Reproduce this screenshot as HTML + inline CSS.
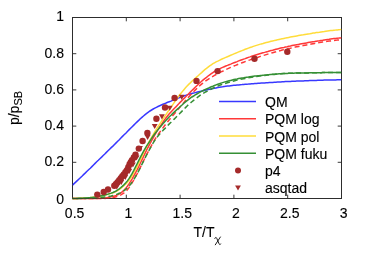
<!DOCTYPE html>
<html><head><meta charset="utf-8"><style>
html,body{margin:0;padding:0;background:#fff;}
svg{display:block;will-change:transform;opacity:0.999;font-family:"Liberation Sans",sans-serif;font-size:14px;fill:#000;}
text{stroke:#000;stroke-width:0.12px;}
</style></head><body>
<svg width="366" height="256" viewBox="0 0 366 256">
<rect width="366" height="256" fill="#fff"/>
<rect x="72.5" y="17.5" width="269.0" height="181.0" fill="none" stroke="#3a3a3a" stroke-width="1"/>
<path d="M72.5,198.5 v-3.8 M72.5,17.5 v3.8" stroke="#3a3a3a" stroke-width="1"/>
<path d="M72.5,198.5 h3.8 M341.5,198.5 h-3.8" stroke="#3a3a3a" stroke-width="1"/>
<path d="M126.3,198.5 v-3.8 M126.3,17.5 v3.8" stroke="#3a3a3a" stroke-width="1"/>
<path d="M72.5,162.3 h3.8 M341.5,162.3 h-3.8" stroke="#3a3a3a" stroke-width="1"/>
<path d="M180.1,198.5 v-3.8 M180.1,17.5 v3.8" stroke="#3a3a3a" stroke-width="1"/>
<path d="M72.5,126.1 h3.8 M341.5,126.1 h-3.8" stroke="#3a3a3a" stroke-width="1"/>
<path d="M233.9,198.5 v-3.8 M233.9,17.5 v3.8" stroke="#3a3a3a" stroke-width="1"/>
<path d="M72.5,89.9 h3.8 M341.5,89.9 h-3.8" stroke="#3a3a3a" stroke-width="1"/>
<path d="M287.7,198.5 v-3.8 M287.7,17.5 v3.8" stroke="#3a3a3a" stroke-width="1"/>
<path d="M72.5,53.7 h3.8 M341.5,53.7 h-3.8" stroke="#3a3a3a" stroke-width="1"/>
<path d="M341.5,198.5 v-3.8 M341.5,17.5 v3.8" stroke="#3a3a3a" stroke-width="1"/>
<path d="M72.5,17.5 h3.8 M341.5,17.5 h-3.8" stroke="#3a3a3a" stroke-width="1"/>
<path d="M72.5,185.1 L74.1,183.6 L75.7,182.1 L77.3,180.6 L79.0,179.0 L80.6,177.5 L82.2,176.0 L83.8,174.4 L85.4,172.9 L87.0,171.3 L88.6,169.8 L90.3,168.2 L91.9,166.6 L93.5,165.0 L95.1,163.4 L96.7,161.8 L98.3,160.3 L99.9,158.7 L101.6,157.1 L103.2,155.5 L104.8,154.0 L106.4,152.4 L108.0,150.8 L109.6,149.2 L111.2,147.6 L112.9,146.1 L114.5,144.5 L116.1,142.9 L117.7,141.3 L119.3,139.7 L120.9,138.0 L122.5,136.4 L124.1,134.8 L125.8,133.2 L127.4,131.5 L129.0,129.9 L130.6,128.3 L132.2,126.7 L133.8,125.1 L135.4,123.5 L137.1,121.9 L138.7,120.4 L140.3,118.8 L141.9,117.4 L143.5,116.0 L145.1,114.6 L146.7,113.3 L148.4,112.1 L150.0,111.0 L151.6,110.0 L153.2,109.0 L154.8,108.1 L156.4,107.3 L158.0,106.5 L159.7,105.7 L161.3,105.0 L162.9,104.3 L164.5,103.6 L166.1,103.0 L167.7,102.3 L169.3,101.7 L171.0,101.1 L172.6,100.4 L174.2,99.8 L175.8,99.1 L177.4,98.4 L179.0,97.8 L180.6,97.1 L182.3,96.5 L183.9,96.0 L185.5,95.4 L187.1,94.9 L188.7,94.4 L190.3,93.9 L191.9,93.5 L193.6,93.1 L195.2,92.6 L196.8,92.2 L198.4,91.8 L200.0,91.4 L201.6,91.1 L203.2,90.7 L204.8,90.3 L206.5,90.0 L208.1,89.6 L209.7,89.2 L211.3,88.9 L212.9,88.6 L214.5,88.2 L216.1,87.9 L217.8,87.6 L219.4,87.3 L221.0,87.0 L222.6,86.8 L224.2,86.5 L225.8,86.3 L227.4,86.1 L229.1,85.9 L230.7,85.7 L232.3,85.5 L233.9,85.3 L235.5,85.2 L237.1,85.0 L238.7,84.9 L240.4,84.7 L242.0,84.6 L243.6,84.4 L245.2,84.3 L246.8,84.2 L248.4,84.1 L250.0,83.9 L251.7,83.8 L253.3,83.7 L254.9,83.6 L256.5,83.5 L258.1,83.3 L259.7,83.2 L261.3,83.1 L263.0,83.0 L264.6,82.9 L266.2,82.8 L267.8,82.7 L269.4,82.6 L271.0,82.5 L272.6,82.4 L274.3,82.3 L275.9,82.2 L277.5,82.1 L279.1,82.0 L280.7,81.9 L282.3,81.8 L283.9,81.7 L285.5,81.6 L287.2,81.6 L288.8,81.5 L290.4,81.4 L292.0,81.3 L293.6,81.3 L295.2,81.2 L296.8,81.1 L298.5,81.1 L300.1,81.0 L301.7,80.9 L303.3,80.9 L304.9,80.8 L306.5,80.7 L308.1,80.7 L309.8,80.6 L311.4,80.6 L313.0,80.5 L314.6,80.5 L316.2,80.4 L317.8,80.3 L319.4,80.3 L321.1,80.2 L322.7,80.2 L324.3,80.1 L325.9,80.1 L327.5,80.1 L329.1,80.0 L330.7,80.0 L332.4,79.9 L334.0,79.9 L335.6,79.9 L337.2,79.8 L338.8,79.8 L340.4,79.8 L341.5,79.8" fill="none" stroke="#3838ff" stroke-width="1.5"/>
<path d="M72.5,198.5 L74.1,198.5 L75.7,198.5 L77.3,198.5 L79.0,198.5 L80.6,198.5 L82.2,198.5 L83.8,198.5 L85.4,198.5 L87.0,198.5 L88.6,198.5 L90.3,198.5 L91.9,198.5 L93.5,198.5 L95.1,198.5 L96.7,198.4 L98.3,198.3 L99.9,198.3 L101.6,198.2 L103.2,198.0 L104.8,197.9 L106.4,197.7 L108.0,197.4 L109.6,197.2 L111.2,196.8 L112.9,196.4 L114.5,196.0 L116.1,195.4 L117.7,194.7 L119.3,193.9 L120.9,192.9 L122.5,191.6 L124.1,190.0 L125.8,188.2 L127.4,186.2 L129.0,183.9 L130.6,181.4 L132.2,178.8 L133.8,175.9 L135.4,172.9 L137.1,169.8 L138.7,166.6 L140.3,163.2 L141.9,159.9 L143.5,156.5 L145.1,153.2 L146.7,149.9 L148.4,146.7 L150.0,143.6 L151.6,140.6 L153.2,137.8 L154.8,135.0 L156.4,132.2 L158.0,129.6 L159.7,127.0 L161.3,124.6 L162.9,122.2 L164.5,119.9 L166.1,117.7 L167.7,115.7 L169.3,113.8 L171.0,112.0 L172.6,110.3 L174.2,108.6 L175.8,106.9 L177.4,105.2 L179.0,103.6 L180.6,101.9 L182.3,100.3 L183.9,98.6 L185.5,97.0 L187.1,95.3 L188.7,93.7 L190.3,92.1 L191.9,90.5 L193.6,88.9 L195.2,87.3 L196.8,85.7 L198.4,84.2 L200.0,82.7 L201.6,81.3 L203.2,79.9 L204.8,78.6 L206.5,77.3 L208.1,76.0 L209.7,74.8 L211.3,73.7 L212.9,72.6 L214.5,71.5 L216.1,70.6 L217.8,69.7 L219.4,68.9 L221.0,68.1 L222.6,67.4 L224.2,66.7 L225.8,66.0 L227.4,65.4 L229.1,64.7 L230.7,64.1 L232.3,63.4 L233.9,62.8 L235.5,62.2 L237.1,61.6 L238.7,60.9 L240.4,60.3 L242.0,59.7 L243.6,59.1 L245.2,58.6 L246.8,58.0 L248.4,57.4 L250.0,56.9 L251.7,56.3 L253.3,55.8 L254.9,55.3 L256.5,54.8 L258.1,54.3 L259.7,53.8 L261.3,53.3 L263.0,52.8 L264.6,52.4 L266.2,51.9 L267.8,51.5 L269.4,51.0 L271.0,50.6 L272.6,50.2 L274.3,49.7 L275.9,49.3 L277.5,48.9 L279.1,48.5 L280.7,48.1 L282.3,47.7 L283.9,47.4 L285.5,47.0 L287.2,46.7 L288.8,46.3 L290.4,46.0 L292.0,45.6 L293.6,45.3 L295.2,45.0 L296.8,44.7 L298.5,44.4 L300.1,44.1 L301.7,43.8 L303.3,43.5 L304.9,43.2 L306.5,42.9 L308.1,42.6 L309.8,42.3 L311.4,42.0 L313.0,41.7 L314.6,41.5 L316.2,41.2 L317.8,40.9 L319.4,40.7 L321.1,40.4 L322.7,40.2 L324.3,39.9 L325.9,39.7 L327.5,39.5 L329.1,39.3 L330.7,39.0 L332.4,38.8 L334.0,38.6 L335.6,38.4 L337.2,38.2 L338.8,38.1 L340.4,37.9 L341.5,37.8" fill="none" stroke="#ff3838" stroke-width="1.5"/>
<path d="M72.5,198.5 L74.1,198.5 L75.7,198.5 L77.3,198.5 L79.0,198.5 L80.6,198.5 L82.2,198.5 L83.8,198.5 L85.4,198.5 L87.0,198.5 L88.6,198.5 L90.3,198.5 L91.9,198.5 L93.5,198.5 L95.1,198.5 L96.7,198.5 L98.3,198.5 L99.9,198.5 L101.6,198.5 L103.2,198.5 L104.8,198.4 L106.4,198.3 L108.0,198.2 L109.6,198.0 L111.2,197.8 L112.9,197.5 L114.5,197.2 L116.1,196.7 L117.7,196.2 L119.3,195.6 L120.9,194.8 L122.5,193.9 L124.1,192.8 L125.8,191.4 L127.4,189.7 L129.0,187.6 L130.6,185.3 L132.2,182.7 L133.8,179.9 L135.4,176.9 L137.1,173.9 L138.7,170.7 L140.3,167.5 L141.9,164.2 L143.5,161.0 L145.1,157.7 L146.7,154.5 L148.4,151.3 L150.0,148.2 L151.6,145.3 L153.2,142.4 L154.8,139.7 L156.4,137.1 L158.0,134.7 L159.7,132.3 L161.3,130.1 L162.9,127.9 L164.5,125.8 L166.1,123.7 L167.7,121.7 L169.3,119.7 L171.0,117.7 L172.6,115.8 L174.2,113.9 L175.8,112.1 L177.4,110.2 L179.0,108.3 L180.6,106.3 L182.3,104.4 L183.9,102.5 L185.5,100.6 L187.1,98.7 L188.7,96.9 L190.3,95.2 L191.9,93.4 L193.6,91.8 L195.2,90.1 L196.8,88.5 L198.4,87.0 L200.0,85.5 L201.6,84.1 L203.2,82.8 L204.8,81.6 L206.5,80.4 L208.1,79.3 L209.7,78.3 L211.3,77.3 L212.9,76.3 L214.5,75.4 L216.1,74.5 L217.8,73.6 L219.4,72.8 L221.0,71.9 L222.6,71.2 L224.2,70.4 L225.8,69.6 L227.4,68.9 L229.1,68.1 L230.7,67.4 L232.3,66.7 L233.9,66.0 L235.5,65.4 L237.1,64.7 L238.7,64.1 L240.4,63.4 L242.0,62.8 L243.6,62.2 L245.2,61.6 L246.8,61.0 L248.4,60.4 L250.0,59.9 L251.7,59.3 L253.3,58.8 L254.9,58.2 L256.5,57.7 L258.1,57.2 L259.7,56.6 L261.3,56.1 L263.0,55.6 L264.6,55.1 L266.2,54.6 L267.8,54.1 L269.4,53.6 L271.0,53.2 L272.6,52.7 L274.3,52.2 L275.9,51.8 L277.5,51.3 L279.1,50.9 L280.7,50.5 L282.3,50.0 L283.9,49.6 L285.5,49.3 L287.2,48.9 L288.8,48.5 L290.4,48.2 L292.0,47.8 L293.6,47.5 L295.2,47.1 L296.8,46.8 L298.5,46.5 L300.1,46.1 L301.7,45.8 L303.3,45.5 L304.9,45.2 L306.5,44.9 L308.1,44.6 L309.8,44.3 L311.4,44.0 L313.0,43.7 L314.6,43.4 L316.2,43.1 L317.8,42.8 L319.4,42.6 L321.1,42.3 L322.7,42.0 L324.3,41.8 L325.9,41.5 L327.5,41.3 L329.1,41.1 L330.7,40.9 L332.4,40.6 L334.0,40.4 L335.6,40.2 L337.2,40.1 L338.8,39.9 L340.4,39.7 L341.5,39.6" fill="none" stroke="#ff3838" stroke-width="1.5" stroke-dasharray="5,3"/>
<path d="M72.5,198.5 L74.1,198.5 L75.7,198.4 L77.3,198.4 L79.0,198.3 L80.6,198.2 L82.2,198.2 L83.8,198.1 L85.4,198.0 L87.0,197.9 L88.6,197.7 L90.3,197.6 L91.9,197.4 L93.5,197.2 L95.1,197.0 L96.7,196.8 L98.3,196.5 L99.9,196.2 L101.6,195.9 L103.2,195.5 L104.8,195.2 L106.4,194.8 L108.0,194.4 L109.6,193.9 L111.2,193.4 L112.9,192.8 L114.5,192.2 L116.1,191.4 L117.7,190.5 L119.3,189.5 L120.9,188.3 L122.5,187.0 L124.1,185.5 L125.8,183.9 L127.4,182.2 L129.0,180.2 L130.6,178.0 L132.2,175.5 L133.8,172.7 L135.4,169.7 L137.1,166.6 L138.7,163.2 L140.3,159.8 L141.9,156.4 L143.5,152.9 L145.1,149.5 L146.7,146.3 L148.4,143.1 L150.0,140.1 L151.6,137.3 L153.2,134.5 L154.8,131.8 L156.4,129.2 L158.0,126.7 L159.7,124.2 L161.3,121.7 L162.9,119.2 L164.5,116.8 L166.1,114.3 L167.7,112.0 L169.3,109.6 L171.0,107.3 L172.6,104.9 L174.2,102.6 L175.8,100.3 L177.4,98.1 L179.0,95.8 L180.6,93.7 L182.3,91.6 L183.9,89.7 L185.5,87.8 L187.1,86.1 L188.7,84.4 L190.3,82.9 L191.9,81.3 L193.6,79.8 L195.2,78.4 L196.8,76.9 L198.4,75.5 L200.0,74.0 L201.6,72.6 L203.2,71.1 L204.8,69.7 L206.5,68.4 L208.1,67.1 L209.7,65.9 L211.3,64.8 L212.9,63.7 L214.5,62.8 L216.1,61.9 L217.8,61.1 L219.4,60.3 L221.0,59.5 L222.6,58.8 L224.2,58.1 L225.8,57.4 L227.4,56.7 L229.1,56.0 L230.7,55.3 L232.3,54.6 L233.9,53.9 L235.5,53.3 L237.1,52.6 L238.7,51.9 L240.4,51.2 L242.0,50.6 L243.6,50.0 L245.2,49.3 L246.8,48.7 L248.4,48.1 L250.0,47.5 L251.7,47.0 L253.3,46.4 L254.9,45.9 L256.5,45.4 L258.1,44.9 L259.7,44.4 L261.3,43.9 L263.0,43.5 L264.6,43.0 L266.2,42.6 L267.8,42.2 L269.4,41.8 L271.0,41.3 L272.6,40.9 L274.3,40.6 L275.9,40.2 L277.5,39.8 L279.1,39.4 L280.7,39.1 L282.3,38.7 L283.9,38.4 L285.5,38.1 L287.2,37.7 L288.8,37.4 L290.4,37.1 L292.0,36.8 L293.6,36.5 L295.2,36.2 L296.8,35.9 L298.5,35.6 L300.1,35.3 L301.7,35.0 L303.3,34.8 L304.9,34.5 L306.5,34.2 L308.1,33.9 L309.8,33.7 L311.4,33.4 L313.0,33.1 L314.6,32.9 L316.2,32.6 L317.8,32.4 L319.4,32.2 L321.1,31.9 L322.7,31.7 L324.3,31.5 L325.9,31.2 L327.5,31.0 L329.1,30.8 L330.7,30.6 L332.4,30.4 L334.0,30.2 L335.6,30.1 L337.2,29.9 L338.8,29.7 L340.4,29.6 L341.5,29.4" fill="none" stroke="#ffdc3a" stroke-width="1.5"/>
<path d="M72.5,198.5 L74.1,198.5 L75.7,198.4 L77.3,198.4 L79.0,198.3 L80.6,198.2 L82.2,198.2 L83.8,198.1 L85.4,198.0 L87.0,197.9 L88.6,197.7 L90.3,197.6 L91.9,197.4 L93.5,197.2 L95.1,197.0 L96.7,196.7 L98.3,196.4 L99.9,196.1 L101.6,195.7 L103.2,195.4 L104.8,195.0 L106.4,194.6 L108.0,194.1 L109.6,193.6 L111.2,193.1 L112.9,192.5 L114.5,191.8 L116.1,191.0 L117.7,190.0 L119.3,188.8 L120.9,187.5 L122.5,186.1 L124.1,184.6 L125.8,182.8 L127.4,180.9 L129.0,178.7 L130.6,176.2 L132.2,173.4 L133.8,170.4 L135.4,167.2 L137.1,163.9 L138.7,160.6 L140.3,157.4 L141.9,154.4 L143.5,151.4 L145.1,148.6 L146.7,145.9 L148.4,143.3 L150.0,140.8 L151.6,138.4 L153.2,136.0 L154.8,133.8 L156.4,131.7 L158.0,129.6 L159.7,127.6 L161.3,125.7 L162.9,123.8 L164.5,122.0 L166.1,120.2 L167.7,118.5 L169.3,116.8 L171.0,115.2 L172.6,113.6 L174.2,112.1 L175.8,110.6 L177.4,109.1 L179.0,107.7 L180.6,106.2 L182.3,104.8 L183.9,103.3 L185.5,101.9 L187.1,100.6 L188.7,99.3 L190.3,98.1 L191.9,97.0 L193.6,96.0 L195.2,94.9 L196.8,94.0 L198.4,93.1 L200.0,92.2 L201.6,91.3 L203.2,90.5 L204.8,89.7 L206.5,89.0 L208.1,88.3 L209.7,87.5 L211.3,86.8 L212.9,86.2 L214.5,85.5 L216.1,84.9 L217.8,84.3 L219.4,83.7 L221.0,83.1 L222.6,82.6 L224.2,82.1 L225.8,81.6 L227.4,81.2 L229.1,80.8 L230.7,80.4 L232.3,80.0 L233.9,79.6 L235.5,79.3 L237.1,79.0 L238.7,78.6 L240.4,78.3 L242.0,78.0 L243.6,77.8 L245.2,77.5 L246.8,77.2 L248.4,77.0 L250.0,76.7 L251.7,76.5 L253.3,76.3 L254.9,76.1 L256.5,75.9 L258.1,75.7 L259.7,75.6 L261.3,75.4 L263.0,75.2 L264.6,75.1 L266.2,74.9 L267.8,74.7 L269.4,74.6 L271.0,74.4 L272.6,74.3 L274.3,74.2 L275.9,74.0 L277.5,73.9 L279.1,73.8 L280.7,73.7 L282.3,73.6 L283.9,73.5 L285.5,73.4 L287.2,73.4 L288.8,73.3 L290.4,73.3 L292.0,73.2 L293.6,73.2 L295.2,73.1 L296.8,73.1 L298.5,73.1 L300.1,73.0 L301.7,73.0 L303.3,73.0 L304.9,72.9 L306.5,72.9 L308.1,72.9 L309.8,72.8 L311.4,72.8 L313.0,72.8 L314.6,72.8 L316.2,72.7 L317.8,72.7 L319.4,72.7 L321.1,72.7 L322.7,72.6 L324.3,72.6 L325.9,72.6 L327.5,72.6 L329.1,72.6 L330.7,72.6 L332.4,72.6 L334.0,72.5 L335.6,72.5 L337.2,72.5 L338.8,72.5 L340.4,72.5 L341.5,72.5" fill="none" stroke="#358f35" stroke-width="1.5"/>
<path d="M72.5,198.5 L74.1,198.5 L75.7,198.5 L77.3,198.5 L79.0,198.5 L80.6,198.4 L82.2,198.4 L83.8,198.4 L85.4,198.4 L87.0,198.3 L88.6,198.3 L90.3,198.2 L91.9,198.2 L93.5,198.1 L95.1,198.0 L96.7,197.9 L98.3,197.8 L99.9,197.6 L101.6,197.4 L103.2,197.2 L104.8,197.0 L106.4,196.8 L108.0,196.5 L109.6,196.2 L111.2,195.9 L112.9,195.5 L114.5,195.1 L116.1,194.6 L117.7,194.0 L119.3,193.3 L120.9,192.5 L122.5,191.6 L124.1,190.6 L125.8,189.4 L127.4,187.9 L129.0,186.2 L130.6,184.2 L132.2,181.9 L133.8,179.5 L135.4,176.8 L137.1,173.9 L138.7,170.9 L140.3,167.7 L141.9,164.4 L143.5,161.2 L145.1,157.9 L146.7,154.7 L148.4,151.6 L150.0,148.6 L151.6,145.6 L153.2,142.9 L154.8,140.4 L156.4,138.1 L158.0,136.0 L159.7,134.1 L161.3,132.3 L162.9,130.5 L164.5,128.9 L166.1,127.2 L167.7,125.6 L169.3,123.9 L171.0,122.3 L172.6,120.7 L174.2,119.1 L175.8,117.5 L177.4,115.9 L179.0,114.3 L180.6,112.6 L182.3,110.9 L183.9,109.3 L185.5,107.6 L187.1,106.0 L188.7,104.5 L190.3,103.1 L191.9,101.7 L193.6,100.3 L195.2,99.0 L196.8,97.8 L198.4,96.6 L200.0,95.4 L201.6,94.3 L203.2,93.3 L204.8,92.4 L206.5,91.5 L208.1,90.6 L209.7,89.8 L211.3,89.0 L212.9,88.2 L214.5,87.5 L216.1,86.8 L217.8,86.1 L219.4,85.4 L221.0,84.8 L222.6,84.2 L224.2,83.7 L225.8,83.2 L227.4,82.7 L229.1,82.2 L230.7,81.7 L232.3,81.3 L233.9,80.9 L235.5,80.5 L237.1,80.1 L238.7,79.7 L240.4,79.4 L242.0,79.0 L243.6,78.7 L245.2,78.4 L246.8,78.1 L248.4,77.8 L250.0,77.5 L251.7,77.2 L253.3,77.0 L254.9,76.7 L256.5,76.5 L258.1,76.3 L259.7,76.1 L261.3,75.8 L263.0,75.6 L264.6,75.4 L266.2,75.3 L267.8,75.1 L269.4,74.9 L271.0,74.7 L272.6,74.5 L274.3,74.4 L275.9,74.2 L277.5,74.1 L279.1,73.9 L280.7,73.8 L282.3,73.7 L283.9,73.6 L285.5,73.5 L287.2,73.4 L288.8,73.3 L290.4,73.3 L292.0,73.2 L293.6,73.2 L295.2,73.1 L296.8,73.1 L298.5,73.1 L300.1,73.0 L301.7,73.0 L303.3,73.0 L304.9,72.9 L306.5,72.9 L308.1,72.9 L309.8,72.8 L311.4,72.8 L313.0,72.8 L314.6,72.7 L316.2,72.7 L317.8,72.7 L319.4,72.7 L321.1,72.7 L322.7,72.6 L324.3,72.6 L325.9,72.6 L327.5,72.6 L329.1,72.6 L330.7,72.6 L332.4,72.6 L334.0,72.5 L335.6,72.5 L337.2,72.5 L338.8,72.5 L340.4,72.5 L341.5,72.5" fill="none" stroke="#358f35" stroke-width="1.5" stroke-dasharray="5,3" stroke-dashoffset="4"/>
<circle cx="97.3" cy="194.6" r="3.2" fill="#a52a2a"/>
<circle cx="103.7" cy="192.0" r="3.2" fill="#a52a2a"/>
<circle cx="108.0" cy="189.5" r="3.2" fill="#a52a2a"/>
<circle cx="114.3" cy="185.8" r="3.2" fill="#a52a2a"/>
<circle cx="116.0" cy="184.0" r="3.2" fill="#a52a2a"/>
<circle cx="117.6" cy="182.3" r="3.2" fill="#a52a2a"/>
<circle cx="119.2" cy="180.3" r="3.2" fill="#a52a2a"/>
<circle cx="120.8" cy="178.2" r="3.2" fill="#a52a2a"/>
<circle cx="122.3" cy="176.3" r="3.2" fill="#a52a2a"/>
<circle cx="123.8" cy="174.4" r="3.2" fill="#a52a2a"/>
<circle cx="125.4" cy="172.3" r="3.2" fill="#a52a2a"/>
<circle cx="126.9" cy="170.2" r="3.2" fill="#a52a2a"/>
<circle cx="128.3" cy="167.2" r="3.2" fill="#a52a2a"/>
<circle cx="129.6" cy="164.2" r="3.2" fill="#a52a2a"/>
<circle cx="130.8" cy="162.2" r="3.2" fill="#a52a2a"/>
<circle cx="132.0" cy="160.2" r="3.2" fill="#a52a2a"/>
<circle cx="133.8" cy="157.4" r="3.2" fill="#a52a2a"/>
<circle cx="135.5" cy="154.6" r="3.2" fill="#a52a2a"/>
<circle cx="138.8" cy="148.6" r="3.2" fill="#a52a2a"/>
<circle cx="142.6" cy="141.0" r="3.2" fill="#a52a2a"/>
<circle cx="147.4" cy="133.0" r="3.2" fill="#a52a2a"/>
<circle cx="156.4" cy="118.8" r="3.2" fill="#a52a2a"/>
<circle cx="165.0" cy="107.5" r="3.2" fill="#a52a2a"/>
<circle cx="174.6" cy="98.0" r="3.2" fill="#a52a2a"/>
<circle cx="196.5" cy="80.9" r="3.2" fill="#a52a2a"/>
<circle cx="217.6" cy="71.1" r="3.2" fill="#a52a2a"/>
<circle cx="254.5" cy="58.7" r="3.2" fill="#a52a2a"/>
<circle cx="287.3" cy="51.8" r="3.2" fill="#a52a2a"/>
<path d="M113.8,184.5 L119.8,184.5 L116.8,189.5 Z" fill="#a52a2a"/>
<path d="M118.3,179.9 L124.2,179.9 L121.3,184.9 Z" fill="#a52a2a"/>
<path d="M122.3,174.9 L128.2,174.9 L125.3,179.9 Z" fill="#a52a2a"/>
<path d="M126.2,169.1 L132.1,169.1 L129.2,174.1 Z" fill="#a52a2a"/>
<path d="M130.0,162.5 L135.8,162.5 L132.9,167.5 Z" fill="#a52a2a"/>
<path d="M133.7,155.5 L139.5,155.5 L136.6,160.5 Z" fill="#a52a2a"/>
<path d="M137.1,145.9 L142.9,145.9 L140.0,150.9 Z" fill="#a52a2a"/>
<path d="M144.7,134.9 L150.5,134.9 L147.6,139.9 Z" fill="#a52a2a"/>
<path d="M151.8,123.9 L157.6,123.9 L154.7,128.9 Z" fill="#a52a2a"/>
<path d="M159.0,114.3 L164.8,114.3 L161.9,119.4 Z" fill="#a52a2a"/>
<path d="M166.8,105.7 L172.6,105.7 L169.7,110.8 Z" fill="#a52a2a"/>
<path d="M178.8,94.8 L184.6,94.8 L181.7,99.9 Z" fill="#a52a2a"/>
<rect x="72.5" y="17.5" width="269.0" height="181.0" fill="none" stroke="#222" stroke-opacity="0.55" stroke-width="1"/>
<text x="74.6" y="217.9" text-anchor="middle">0.5</text>
<text x="128.4" y="217.9" text-anchor="middle">1</text>
<text x="182.2" y="217.9" text-anchor="middle">1.5</text>
<text x="236.0" y="217.9" text-anchor="middle">2</text>
<text x="289.8" y="217.9" text-anchor="middle">2.5</text>
<text x="343.6" y="217.9" text-anchor="middle">3</text>
<text x="64" y="204.1" text-anchor="end">0</text>
<text x="64" y="166.2" text-anchor="end">0.2</text>
<text x="64" y="130.0" text-anchor="end">0.4</text>
<text x="64" y="93.8" text-anchor="end">0.6</text>
<text x="64" y="57.6" text-anchor="end">0.8</text>
<text x="64" y="21.4" text-anchor="end">1</text>
<text x="193.5" y="237.3">T/T</text>
<path d="M214.8,238.4 C215.3,237.1 216.3,237.1 216.8,238.4 L219.0,243.6 C219.5,244.9 220.3,244.9 220.7,244.0 M220.4,237.0 L215.3,244.8" fill="none" stroke="#111" stroke-width="0.95" stroke-linecap="round"/>
<text transform="translate(18.5,108) rotate(-90)" text-anchor="middle">p/p<tspan dy="3" font-size="11">SB</tspan></text>
<path d="M219,101.6 H256" stroke="#3838ff" stroke-width="1.5"/>
<text x="265" y="107.1">QM</text>
<path d="M219,118.8 H256" stroke="#ff3838" stroke-width="1.5"/>
<text x="265" y="124.3">PQM log</text>
<path d="M219,136.0 H256" stroke="#ffdc3a" stroke-width="1.5"/>
<text x="265" y="141.5">PQM pol</text>
<path d="M219,153.2 H256" stroke="#358f35" stroke-width="1.5"/>
<text x="265" y="158.7">PQM fuku</text>
<circle cx="238" cy="170.4" r="3.0" fill="#a52a2a"/>
<text x="265" y="175.9">p4</text>
<path d="M235.1,185.5 L240.9,185.5 L238.0,190.5 Z" fill="#a52a2a"/>
<text x="265" y="193.1">asqtad</text>
</svg></body></html>
